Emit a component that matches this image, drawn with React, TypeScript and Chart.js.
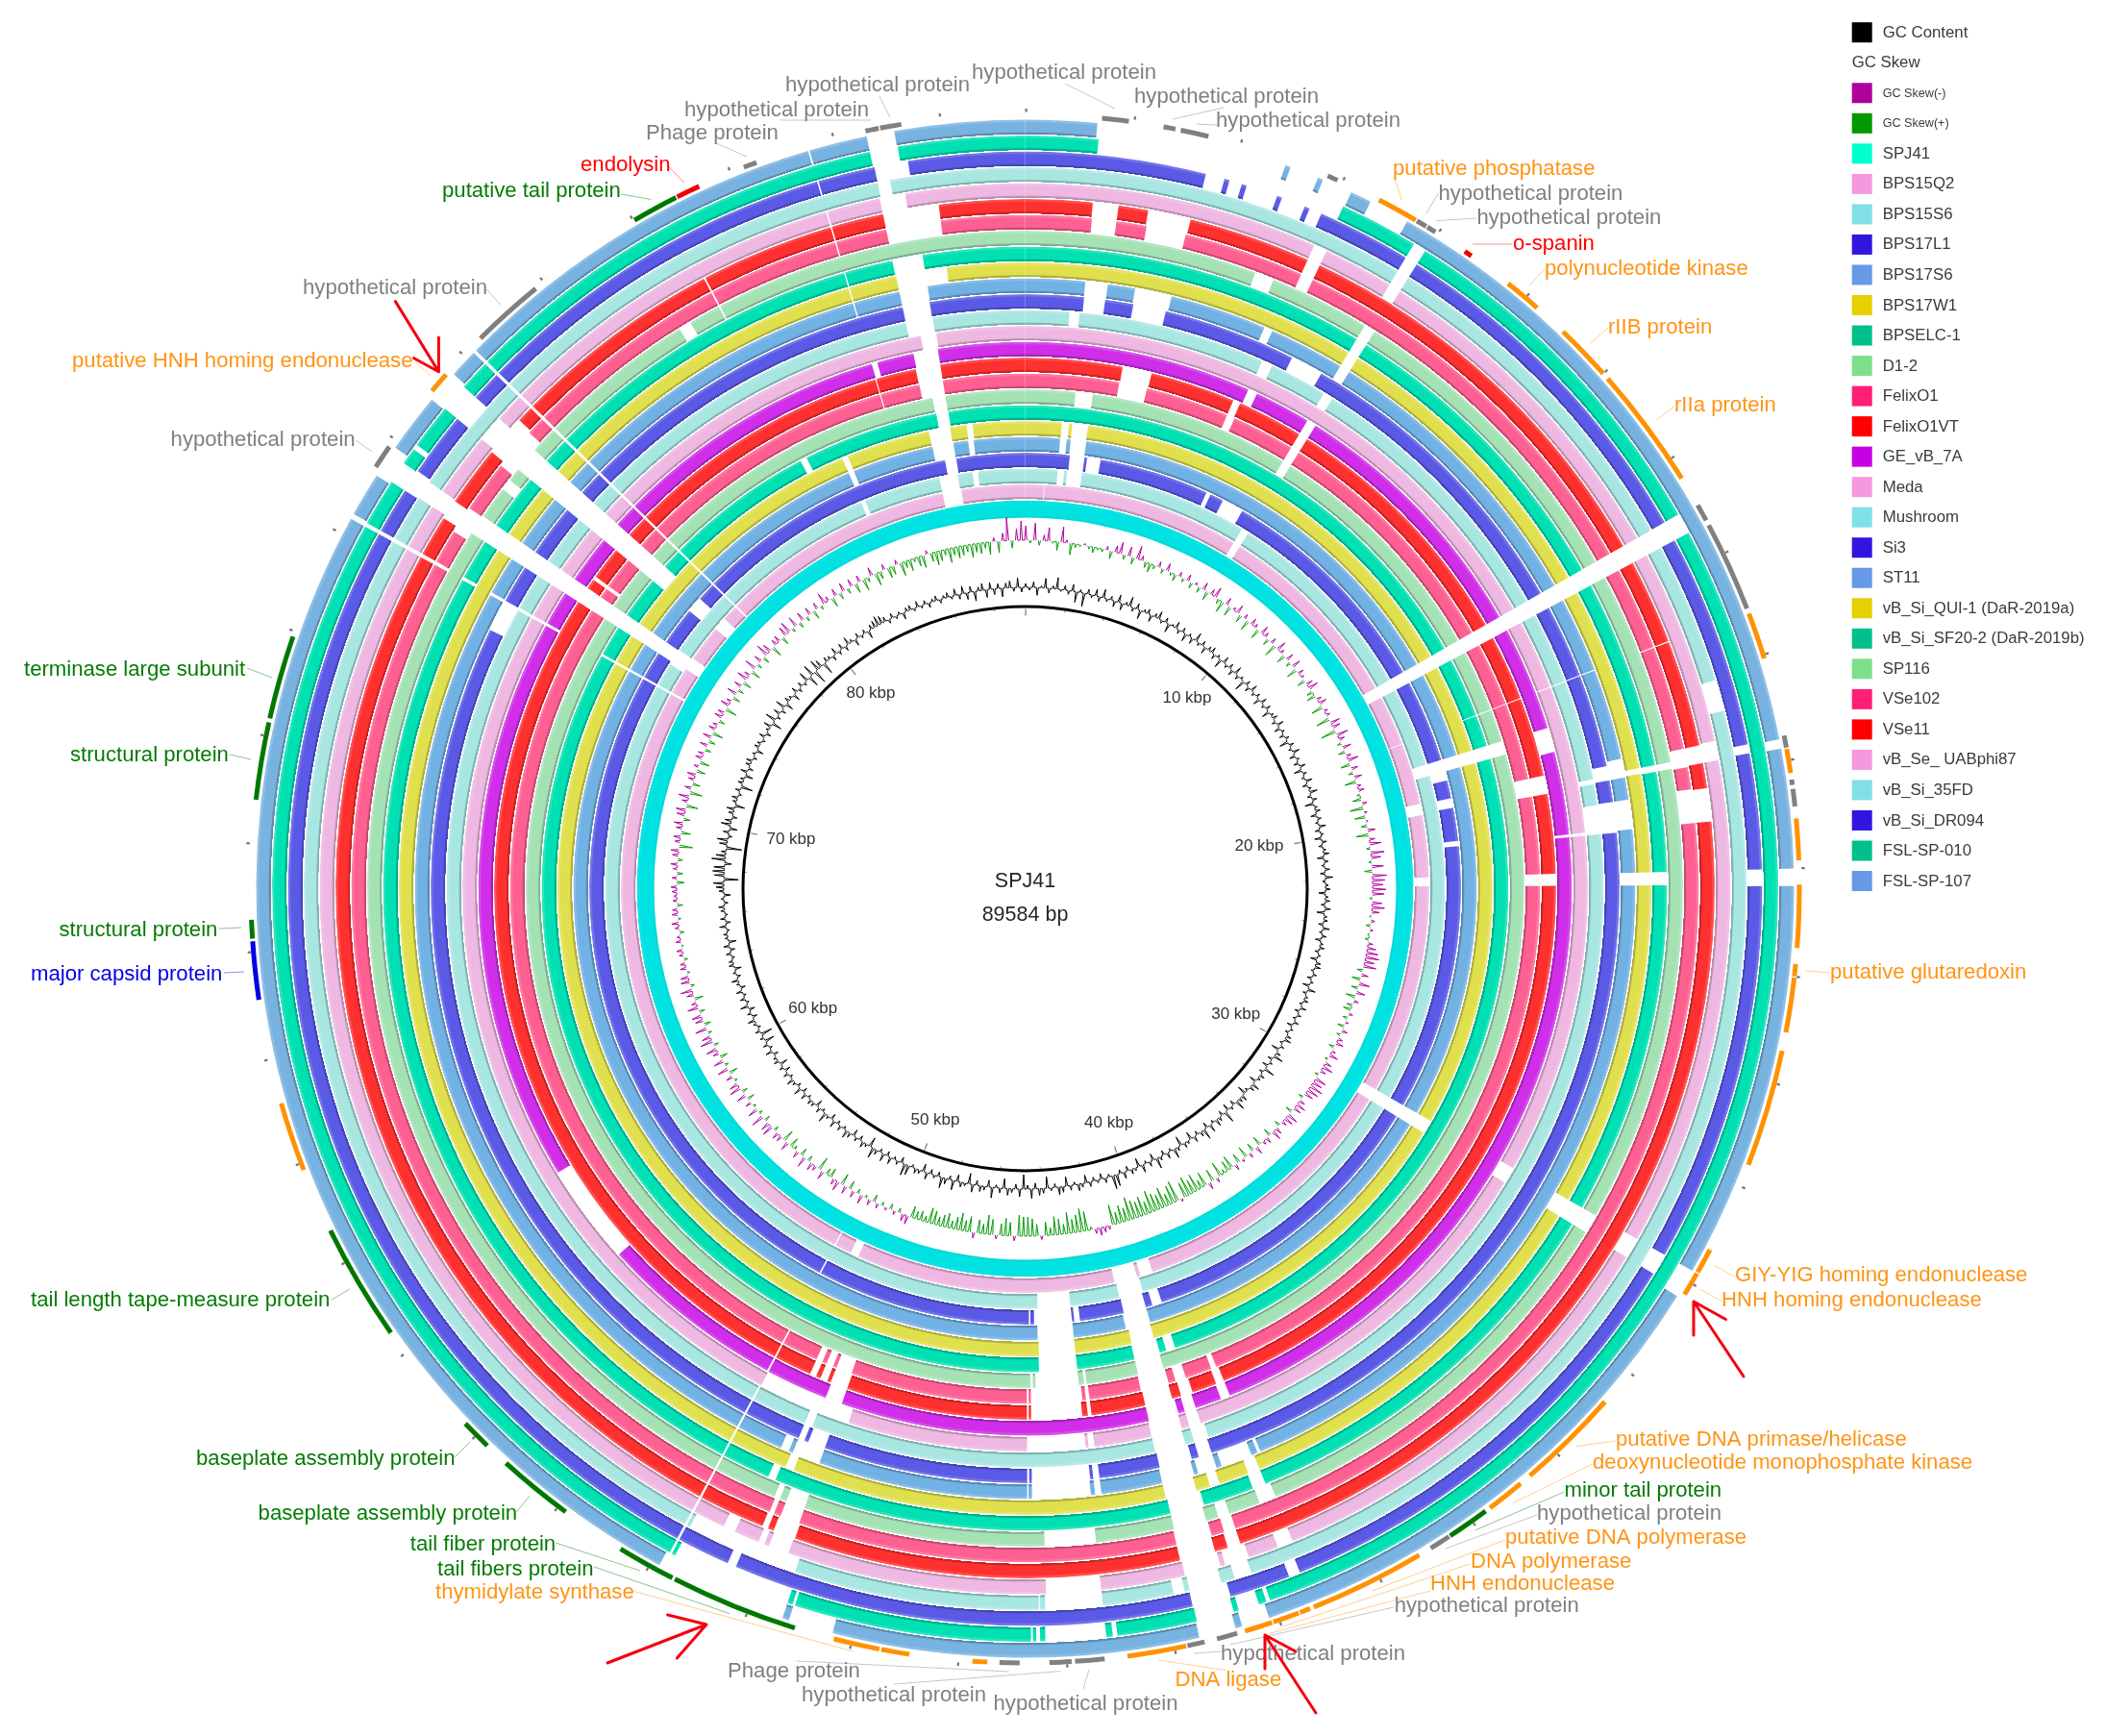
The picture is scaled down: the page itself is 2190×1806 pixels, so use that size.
import React, { useEffect, useRef } from "react";
import { Chart, registerables } from "chart.js";
Chart.register(...registerables);

// ---------- DATA ----------
const GENOME_KBP = 89.584;
const kbpTickLabels = ["10 kbp", "20 kbp", "30 kbp", "40 kbp", "50 kbp", "60 kbp", "70 kbp", "80 kbp"];
const minorTicksKbp = [0,2,4,6,8,10,12,14,16,18,20,22,24,26,28,30,32,34,36,38,40,42,44,46,48,50,52,54,56,58,60,62,64,66,68,70,72,74,76,78,80,82,84,86,88];
const majorTicksKbp = [0,10,20,30,40,50,60,70,80];

const ringNames = ["SPJ41","BPS15Q2","BPS15S6","BPS17L1","BPS17S6","BPS17W1","BPSELC-1","D1-2","FelixO1","FelixO1VT","GE_vB_7A","Meda","Mushroom","Si3","ST11","vB_Si_QUI-1 (DaR-2019a)","vB_Si_SF20-2 (DaR-2019b)","SP116","VSe102","VSe11","vB_Se_ UABphi87","vB_Si_35FD","vB_Si_DR094","FSL-SP-010","FSL-SP-107"];

// recurring unmatched wedges, degrees clockwise from the origin
const A61 = [60.2, 61.8];
const B69 = [68.95, 69.05];
const A120 = [119.8, 121.5];
const T208 = [207.98, 208.17];
const T299 = [298.75, 299.05];
const W303 = [302.7, 304.5];
const W310 = [309.6, 311.8];
const T314 = [314.18, 314.42];
const T344 = [343.6, 343.72];
const W24 = [24.2, 25.3];
const W31 = [31.1, 32.1];
const W73 = [72.8, 74.4];
const W89 = [88.5, 89.7];

const gapsSPJ41: number[][] = [];
const gapsBPS15Q2 = [[2.65,2.75],W31,A61,B69,[77.9,79.5],[88.4,89.65],A120,[161.6,163.4],[163.9,167.2],[204.4,205.6],T208,T299,[302.9,304.7],[310,311.9],T314,[348.2,350.9]];
const gapsBPS15S6 = [[4.45,5.35],[5.75,7.8],W31,A61,W73,A120,[163.7,167],[173.8,178.3],T299,[302.3,304.6],T314,[337,337.6],[348.2,350.75],[352.8,353.55]];
const gapsBPS17L1 = [[5.9,7.85],[8.2,10],[24.6,25.2],[27,29.9],A61,[72.8,75.6],[78,79.3],[83.7,84.4],A120,[161.7,163],[163.9,166.9],[172.75,173.5],[173.8,178.8],[179.3,179.5],T208,T299,W303,[309.6,311.7],T314,[349.4,350.9]];
const gapsBPS17S6 = [[4.45,5.3],[5.8,7.8],A61,W73,A120,[163.9,167.1],[173.8,178.4],T299,W303,T314,[337,337.7],[348.15,350.85],[352.75,353.45]];
const gapsBPS17W1 = [[4.5,5.4],[5.8,7.75],A61,W73,A120,[164,166.8],[173.8,178.3],T299,W303,T314,[337,337.7],[348.1,350.75],[352.8,353.55]];
const gapsBPSELC1 = [A61,B69,W73,[161.9,163],[163.8,166.9],[173.8,178.35],T299,W303,W310,T314,[332.3,333.1],[349.4,350.85]];
const gapsD12 = [[5.8,7.8],W31,A61,B69,W73,[163.9,166.9],[172.9,173.2],[173.8,178.8],[179.1,179.4],W303,W310,T314,[349.3,350.8]];
const gapsFelixO1 = [[10.55,13.7],[23.1,24],W31,A61,B69,[77.7,79.7],[88.4,89.7],[158.2,158.8],[161.8,163],[163.8,167],[172.8,173.2],[173.6,179.35],[179.6,179.8],[199.7,201.5],[201.9,202.7],[203.2,203.9],T208,W303,[305.6,306],W310,T314,T344,[348.15,350.8]];
const gapsFelixO1VT = [[10.6,13.8],[23.1,23.9],W31,A61,B69,[77.7,79.7],[88.4,89.7],[158,158.9],[161.6,162.9],[163.9,166.9],[172.8,173.2],[173.8,179.35],[179.6,179.8],[199.6,201.5],[201.9,202.7],[203.2,203.9],T208,W303,[305.6,306],W310,T314,T344,[348.1,350.8]];
const gapsGE7A = [[24.1,25.1],W31,A61,[72.9,75.5],[84.3,84.6],[158,159],[161.8,163],[163.7,166.9],[199.6,201.4],T208,[228,238.7],T299,W303,W310,T314,[343.7,344.3],[348.2,350.8]];
const gapsMeda = [A61,B69,[84.3,84.6],A120,[161.8,163],[163.8,167],[172.9,173.5],[173.8,179.8],[198.3,208],T299,W303,W310,T314,[349.3,350.9]];
const gapsMushroom = [[4.4,5.4],W24,W31,A61,B69,[79.1,79.6],[81.7,84.6],[161.5,163],[163.9,167],[201.6,202.4],T208,T299,W303,W310,T314,[348.1,350.8]];
const gapsSi3 = [[5.7,7.75],[10.5,13.7],[26.7,29.9],A61,B69,[78.1,79.5],[81.6,84.6],[161.7,163],[163.7,166.9],[172.8,173.4],[173.7,179.35],[179.6,179.8],[199.7,201.4],[201.8,202.4],T208,[295.8,299],W303,W310,T314,[348.1,350.75]];
const gapsST11 = [[5.67,7.8],[10.4,13.9],[23.1,23.9],W31,A61,B69,[77.7,79.5],[81.6,84.4],W89,[157.3,157.6],[158.2,161.2],[161.7,163.5],[163.9,167],[172.8,173.4],[173.8,179.35],[179.67,179.8],[199.7,202.4],[202.8,203.6],T208,T299,W303,W310,T314,T344,[348.1,350.8]];
const gapsQUI1 = [W31,A61,[78.9,79.4],W89,A120,[158,159.1],[161.9,162.8],[164.1,167],[201.7,202.5],T208,W303,W310,T314,T344,[348.1,352.8]];
const gapsSF202 = [W31,A61,[78.9,79.5],W89,A120,[158,159.2],[163.8,166.9],[202.9,203.6],T208,T299,W303,W310,T314,T344,[348.05,350.8]];
const gapsSP116 = [[20.5,22.2],W31,A61,[78.9,79.5],A120,[157.6,159.1],[161.9,162.9],[164,166.9],[173.8,178.3],[199.6,201.3],[201.9,202.4],T208,W303,[307.4,308.4],W310,T314,[328.3,329.4],[332.23,332.37]];
const gapsVSe102 = [[5.7,7.8],[10.4,13.8],W24,A61,B69,[78,79.6],[81.5,84.4],[161.8,162.8],[163.9,167],[199.6,201.3],[201.9,202.3],T208,T299,[302,304.4],[308.9,312.6],T314,[332.23,332.37],T344,[348.1,352.8]];
const gapsVSe11 = [[5.64,7.8],[10.3,13.9],W24,A61,B69,[78,79.5],[81.6,84.4],[161.8,162.9],[164,167],[199.5,201.4],[201.9,202.4],T208,T299,[302.5,304.2],[309.3,312.8],T314,[332.23,332.37],T344,[348.1,352.8]];
const gapsUABphi87 = [W24,W31,A61,[77.9,79.5],A120,[157.7,159],[161.5,163.5],[163.9,166.9],[173.8,178.3],[199.6,201.3],[201.7,202.2],[204.3,205.3],T208,T299,[302.8,304.3],W310,T314,T344,[348.1,350.2]];
const gaps35FD = [W31,A61,[73.2,75.7],[161.7,163.1],[164.2,166.8],[167.2,168.1],[173.8,178.4],[178.8,178.9],[198.6,207.7],T208,T299,[302.8,304.3],T314,[348.2,349.2]];
const gapsDR094 = [[14.2,15.7],[16.1,17.1],[17.5,20],[20.4,22.3],[22.7,23.7],W31,A61,[78.7,79.4],[88.5,89.8],A120,[158.1,159],[163.8,166.85],[203.1,203.8],T208,T299,W303,W310,T314,T344,[348.2,350.85]];
const gapsFSL010 = [[5.6,25],W31,A61,[161,161.3],[161.9,163.5],[163.9,166.8],[172.95,173.3],[173.8,178.45],[178.85,179.15],[179.4,179.55],[197.8,198],[198.4,207.7],T208,T299,[302.7,304.4],[305.7,306.1],W310,T314,[348.1,350.25]];
const gapsFSL107 = [[5.4,19.8],[20.2,22.4],[22.8,25.1],[26.7,29.8],[78.8,79.5],[88.5,89.8],[119.8,122],[161.5,163.6],[164.1,166.9],[194.5,197.9],[198.4,208.4],[298.75,299.15],[302.5,305],[309.5,312],T314,T344,[348.1,350.2]];
const ringGaps = [gapsSPJ41,gapsBPS15Q2,gapsBPS15S6,gapsBPS17L1,gapsBPS17S6,gapsBPS17W1,gapsBPSELC1,gapsD12,gapsFelixO1,gapsFelixO1VT,gapsGE7A,gapsMeda,gapsMushroom,gapsSi3,gapsST11,gapsQUI1,gapsSF202,gapsSP116,gapsVSe102,gapsVSe11,gapsUABphi87,gaps35FD,gapsDR094,gapsFSL010,gapsFSL107];

// annotated CDS arcs: start deg, end deg, category
const geneArcs: [number, number, string][] = [
  [5.7,7.7,"h"],[10.3,11.2,"h"],[11.6,13.7,"h"],[23,23.8,"h"],[27.2,30.3,"o"],[30.4,31.2,"h"],[31.3,32,"h"],[34.6,35.2,"r"],[38.6,41.4,"o"],[44,48.3,"o"],[48.8,58,"o"],[60.3,61.6,"h"],[62,68.8,"h"],[69.2,72.7,"o"],[78.6,79.5,"h"],[79.6,81.4,"o"],[81.9,82.3,"h"],[82.6,83.9,"h"],[84.8,87.9,"o"],[89.7,94.4,"o"],[95.6,96.5,"o"],[96.6,100.7,"o"],[102.1,110.9,"o"],[117.8,119.7,"o"],[119.8,121.6,"o"],[131.5,139.3,"o"],[140.2,143.1,"o"],[143.5,146.7,"g"],[146.8,148.4,"h"],[149.4,158.1,"o"],[158.4,159.2,"o"],[159.3,161.3,"o"],[161.4,163.5,"o"],[164.1,165.65,"h"],[166.6,167.9,"h"],[168,172.4,"o"],[174.1,176.3,"h"],[176.55,178.2,"h"],[180.4,181.9,"h"],[182.8,183.9,"o"],[188.6,190.7,"o"],[190.85,194.3,"o"],[197.3,206.9,"g"],[207.1,211.5,"g"],[216.4,222.1,"g"],[224,226.3,"g"],[235,243.8,"g"],[248.7,253.9,"o"],[261.75,266.1,"b"],[266.3,267.7,"g"],[276.6,282.4,"g"],[282.7,289,"g"],[303,304.8,"h"],[310,311.6,"o"],[315.3,320.8,"h"],[329.7,333.2,"g"],[333.3,335.1,"r"],[338.7,339.7,"h"],[348.1,349.1,"h"],[349.2,350.8,"h"]
];

const geneLabels: [string, string][] = [
  ["hypothetical protein","h"],["hypothetical protein","h"],["hypothetical protein","h"],["hypothetical protein","h"],["hypothetical protein","h"],["Phage protein","h"],["endolysin","r"],["putative tail protein","g"],["hypothetical protein","h"],["putative HNH homing endonuclease","o"],["hypothetical protein","h"],["terminase large subunit","g"],["structural protein","g"],["structural protein","g"],["major capsid protein","b"],["tail length tape-measure protein","g"],["baseplate assembly protein","g"],["baseplate assembly protein","g"],["tail fiber protein","g"],["tail fibers protein","g"],["thymidylate synthase","o"],["Phage protein","h"],["hypothetical protein","h"],["hypothetical protein","h"],["DNA ligase","o"],["hypothetical protein","h"],["hypothetical protein","h"],["HNH endonuclease","o"],["DNA polymerase","o"],["putative DNA polymerase","o"],["hypothetical protein","h"],["minor tail protein","g"],["deoxynucleotide monophosphate kinase","o"],["putative DNA primase/helicase","o"],["HNH homing endonuclease","o"],["GIY-YIG homing endonuclease","o"],["putative glutaredoxin","o"],["rIIa protein","o"],["rIIB protein","o"],["polynucleotide kinase","o"],["o-spanin","r"],["hypothetical protein","h"],["hypothetical protein","h"],["putative phosphatase","o"]
];

const legendEntries: [string, string | null][] = [
  ["GC Content","#000000"],["GC Skew",null],["GC Skew(-)","#b0009c"],["GC Skew(+)","#009900"],["SPJ41","#00ffcc"],["BPS15Q2","#f598de"],["BPS15S6","#7fe0e8"],["BPS17L1","#3315e0"],["BPS17S6","#6699e6"],["BPS17W1","#e6d000"],["BPSELC-1","#00c08c"],["D1-2","#7fe08c"],["FelixO1","#ff2075"],["FelixO1VT","#ff0000"],["GE_vB_7A","#c800e6"],["Meda","#f598de"],["Mushroom","#7fe0e8"],["Si3","#3315e0"],["ST11","#6699e6"],["vB_Si_QUI-1 (DaR-2019a)","#e6d000"],["vB_Si_SF20-2 (DaR-2019b)","#00c08c"],["SP116","#7fe08c"],["VSe102","#ff2075"],["VSe11","#ff0000"],["vB_Se_ UABphi87","#f598de"],["vB_Si_35FD","#7fe0e8"],["vB_Si_DR094","#3315e0"],["FSL-SP-010","#00c08c"],["FSL-SP-107","#6699e6"]
];

// one reading every 0.75 degree, twelve lines of 30 degrees each
const gcContentDeviation = [
  4,-3,6,-8,2,10,-5,3,12,-2,5,-4,7,-11,3,-14,5,-3,7,-5,9,-3,4,-6,8,-7,3,10,-4,6,-9,3,5,-7,4,8,-3,5,-9,2,
  7,-4,5,-8,3,-6,9,-3,5,-7,4,6,-5,3,-9,7,-3,5,-6,8,-4,3,-11,5,-5,7,-3,4,-7,6,-3,5,-8,3,5,-4,7,-6,3,-5,
  4,-9,5,-3,7,-6,3,-5,6,-8,4,-3,7,-5,3,8,-4,5,-9,3,5,-6,4,-3,7,-5,3,-7,5,-4,3,6,-7,4,-3,5,-5,8,-3,3,
  5,-7,3,5,-4,6,-8,3,4,-5,7,-3,5,-6,3,5,-4,3,-7,5,6,-3,4,-5,3,-7,8,-4,3,5,-3,6,-5,4,-3,5,-6,3,-4,5,
  7,-3,4,-8,5,10,-5,3,-6,11,-4,5,3,-7,8,5,-3,-9,6,4,10,-5,3,-7,12,-5,4,7,-3,8,-6,11,5,-4,6,-8,3,5,-10,4,
  10,-3,6,-5,4,11,-7,5,-3,8,-9,3,5,-5,7,-4,12,14,-3,5,-6,3,-4,5,-8,4,7,-3,5,-10,6,8,-4,3,-12,5,7,-6,10,-4,
  -15,8,-5,4,7,-10,5,-3,11,-7,4,6,-5,8,-11,3,5,-7,10,-4,6,11,-5,3,-5,7,-8,4,5,-3,10,12,-6,4,-3,7,-5,8,-4,5,
  11,-10,3,6,-5,4,-7,5,8,-3,5,-4,7,-6,3,10,-3,5,-7,4,5,-3,6,-5,8,-4,3,7,-3,5,-6,4,-8,5,3,-5,7,-3,5,-10,
  4,-12,5,-3,3,7,-5,4,-6,8,-3,5,-3,6,-5,3,7,-4,3,-7,5,4,-3,5,-5,6,-8,3,4,-3,7,-5,5,-3,4,6,-4,3,-7,5,
  8,11,-15,10,12,11,-7,14,10,5,-16,8,11,-4,6,-8,10,7,-5,5,8,-10,4,6,-3,5,-12,5,4,-8,7,-5,5,6,-4,3,-7,5,4,-3,
  6,-5,3,8,-10,11,-4,7,-5,10,-8,5,3,-7,6,-4,5,-3,10,-11,12,-14,11,8,-12,5,3,-5,7,-4,6,-5,8,3,-7,5,-3,4,-8,5,
  7,10,8,5,-4,5,-3,3,-7,4,5,-3,6,-3,4,-5,3,5,-4,3,5,-3,7,-5,8,-7,6,-10,4,7,-8,7,-6,5,-9,5,7,-4,10,-5
];
const gcSkewDeviation = [
  15,-3,18,-5,6,14,-2,-9,16,3,-12,-4,-2,2,-3,-6,-2,-3,4,-8,7,12,-5,10,-7,14,5,-6,-9,-4,6,-5,8,-3,-7,5,-4,7,-6,3,
  -6,8,-9,6,11,-5,-12,8,-10,3,9,-8,5,-11,7,4,-10,9,5,-7,6,-13,10,4,-9,8,-5,9,-11,6,3,-8,7,10,-6,-9,5,8,-12,4,
  4,-14,10,8,-16,12,6,-4,9,-7,5,11,-10,7,-5,8,-12,4,6,-3,-9,5,-14,3,-11,2,-6,8,-13,6,12,-4,14,10,-3,12,-8,15,13,11,
  14,12,-3,10,13,8,-2,4,-5,3,-2,-4,5,9,12,14,10,13,-6,7,-9,11,-7,9,-10,5,-6,-8,4,-5,3,-7,6,-4,5,8,-6,4,9,-3,
  7,11,6,-4,12,10,14,12,9,-5,6,10,8,-7,11,9,5,-6,7,10,-8,6,4,-10,8,-9,5,-12,3,-10,6,-14,-11,-4,-16,5,-13,7,-15,-9,
  -18,-14,-20,-16,3,-22,-19,-12,-21,-15,-18,-23,-13,-20,-16,-19,-24,-14,-18,-12,-21,4,6,8,5,-3,-20,-24,-18,-14,-22,-10,-16,-19,-8,-14,4,-12,-18,-20,
  -20,-22,5,-14,-18,-12,4,-16,-20,-10,-14,6,-16,-11,-18,-13,-8,-15,-12,-9,-14,-16,-6,-10,-8,-12,9,7,-5,4,-6,3,-4,5,-8,6,-3,9,-5,7,
  -9,8,-12,10,6,-10,-7,9,-14,5,8,-6,11,-8,7,-4,-10,9,-12,6,7,-5,11,9,-6,13,-4,10,-3,6,-8,10,-6,12,9,-3,7,-9,11,-4,
  10,-8,6,11,-5,13,9,-4,12,-7,8,10,-6,11,5,-9,7,12,-4,9,8,-3,6,5,-4,4,6,-2,5,3,-5,4,7,-3,6,5,-6,4,3,5,
  6,-8,5,-6,4,7,-5,6,8,-14,5,7,-10,6,9,-7,8,10,-12,6,11,-13,7,-8,6,9,-9,5,-10,7,6,-6,8,-7,9,-11,7,5,-6,8,
  7,-12,9,5,-8,10,-6,8,-9,11,6,-10,12,-5,8,-7,13,9,-11,6,7,-8,10,12,-4,11,-6,9,-5,8,-9,7,-4,12,5,-10,8,-7,9,-6,
  8,-10,7,-12,-5,9,-13,-8,6,-11,-9,5,-14,-7,-12,-4,-10,-13,4,-9,-14,-11,-6,-15,-8,-12,-10,-7,-14,-9,-11,-6,-13,4,-12,8,24,-8,12,20
];

// ---------- LAYOUT AND STYLE ----------
const W = 2190, H = 1806, CX = 1066.5, CY = 924.5;
const GC_BASE = 313, SKEW_BASE = 362;
const RING_W = 16.5, CORE_W = 18, CORE_IN = 386;
const TEXT_DY = 1.4;
const FONT = '"Liberation Sans", Arial, sans-serif';
const catColor: Record<string, string> = { h: "#808080", o: "#ff9414", g: "#047c04", r: "#ff0000", b: "#0000e6" };
const geneArcColor: Record<string, string> = { h: "#808080", o: "#ff9200", g: "#007800", r: "#f00000", b: "#0000e0" };
const ringBase = ["#00e2e2","#eeb8e2","#a8e6e2","#5a5ae6","#72b1e4","#e0e04e","#00e0b2","#a4e2b5","#ff6092","#ff3030","#d02ee8","#eeb8e2","#a8e6e2","#5a5ae6","#72b1e4","#e0e04e","#00e0b2","#a4e2b5","#ff6092","#ff3030","#eeb8e2","#a8e6e2","#5a5ae6","#00e0b2","#78b2e0"];

const kbpLabelPos = [[1235,725],[1310,879],[1285.7,1054],[1153.6,1167],[973,1164],[845.7,1048],[823,872],[906,719.7]];
// left x, middle y, leader from, leader to
const geneLabelLayout = [
  [1011,74,1108,87,1160,113],[817,87,915,100,926,122],[1180,99,1220,124,1273,112],[712,113,812,125,906,125],[1265,124,1245,129,1266,130],[672,137,745,149,777,163],[604,170.7,696,174,712,190],[460,197,646,202,677.5,207.5],[315,298,506,301,521,317],[75,374,432,376,448,391],[177.6,456,370,458,387.5,470],[25,695,257,695,283,705],[73,784,239,785,261,790],[61.5,966.5,228,966,251,965],[32,1012.6,233,1012,254,1011],[32,1351,345,1352,364,1341],[204,1516,473,1516,489,1500],[268.6,1573,537.5,1573,551,1556],[426.8,1605,578,1605,666,1634],[455,1631,618,1630,759,1678.6],[453,1655,658,1655,887.5,1718],[757,1737.5,829,1728,1050,1739],[834,1762.6,930,1752,1103.6,1738.6],[1033.5,1771,1127,1757,1133,1737],[1222.5,1746,1205,1727,1275,1737.5],[1270,1719.6,1242,1720,1271,1718],[1450.7,1669.6,1450,1672,1280,1711],[1488,1646,1488,1655,1318,1700],[1530,1623,1529,1627,1332,1693],[1566,1598,1566,1602,1427.5,1655],[1599,1573,1599,1576,1504,1611],[1627.5,1549,1627.5,1552,1534.6,1592],[1657,1520.7,1657,1523,1574,1563.6],[1681,1496,1681,1499,1640,1504.6],[1791,1351,1791,1353.6,1768.6,1341],[1805,1325.7,1805,1328.6,1783,1316],[1904,1010,1904,1012,1879,1010],[1742,420.7,1742,422.5,1723,437],[1673,339,1673,341,1655,357],[1607,278,1607,279.6,1590.7,297.5],[1574,252,1573,254,1532,254],[1536.4,225,1536,227,1494,229.6],[1496.4,200,1496.4,201,1483.6,222.5],[1449,174,1450.7,185,1458.6,209]
];
const redArrows = [
  [411.4,313.6,456.4,386.8,456.4,351,430.4,372.5],
  [632,1730,735,1690,694.6,1680,704.3,1725],
  [1369,1782,1316,1701,1316,1736,1348,1718],
  [1814,1432,1762,1354,1762,1389,1795.4,1372.5],
];

function shade(hex: string, f: number) {
  const n = parseInt(hex.slice(1), 16);
  const ch = [(n >> 16) & 255, (n >> 8) & 255, n & 255].map((c) => (f < 1 ? c * f : c + (255 - c) * (f - 1)));
  return `rgb(${ch.map(Math.round).join(",")})`;
}

function ringArcs(gaps: number[][]) {
  const sorted = gaps.map((g) => [g[0], g[1]]).sort((a, b) => a[0] - b[0]);
  const merged: number[][] = [];
  for (const g of sorted) {
    const last = merged[merged.length - 1];
    if (last && g[0] <= last[1]) last[1] = Math.max(last[1], g[1]);
    else merged.push(g);
  }
  const data: number[] = [];
  let pos = 0;
  for (const [a, b] of merged) {
    data.push(Math.max(0, a - pos), b - a);
    pos = b;
  }
  data.push(360 - pos);
  return data;
}

function markArcs(marks: [number, number, string][]) {
  const data: number[] = [];
  const colors: string[] = [];
  let pos = 0;
  for (const [a, b, c] of marks) {
    data.push(Math.max(0, a - pos), b - a);
    colors.push("rgba(0,0,0,0)", c);
    pos = b;
  }
  data.push(360 - pos);
  colors.push("rgba(0,0,0,0)");
  return { data, colors };
}

function tickMarks(kbp: number[], width: number, color: string): [number, number, string][] {
  return kbp.map((k) => {
    const a = (k / GENOME_KBP) * 360;
    return [a, a + width, color];
  });
}

const annotationPlugin = {
  id: "annotations",
  afterDraw(chart: any) {
    const c = chart.ctx as CanvasRenderingContext2D;
    c.save();
    c.textBaseline = "middle";
    c.textAlign = "left";
    // leaders and gene names
    geneLabels.forEach(([text, cat], i) => {
      const [x, y, x1, y1, x2, y2] = geneLabelLayout[i];
      c.globalAlpha = 0.45;
      c.strokeStyle = catColor[cat];
      c.lineWidth = 1;
      c.beginPath();
      c.moveTo(x1, y1);
      c.lineTo(x2, y2);
      c.stroke();
      c.globalAlpha = 1;
      c.fillStyle = catColor[cat];
      c.font = `22.15px ${FONT}`;
      c.fillText(text, x, y + TEXT_DY);
    });
    // red arrows
    c.strokeStyle = "#f5000f";
    c.lineWidth = 3;
    c.lineCap = "round";
    c.lineJoin = "round";
    redArrows.forEach(([a, b, tx, ty, h1x, h1y, h2x, h2y]) => {
      c.beginPath();
      c.moveTo(a, b);
      c.lineTo(tx, ty);
      c.moveTo(h1x, h1y);
      c.lineTo(tx, ty);
      c.lineTo(h2x, h2y);
      c.stroke();
    });
    // centre text
    c.textAlign = "center";
    c.fillStyle = "#262626";
    c.font = `21.5px ${FONT}`;
    c.fillText("SPJ41", CX, 916 + TEXT_DY);
    c.fillText("89584 bp", CX, 951 + TEXT_DY);
    c.fillStyle = "#333333";
    c.font = `17px ${FONT}`;
    kbpTickLabels.forEach((t, i) => c.fillText(t, kbpLabelPos[i][0], kbpLabelPos[i][1] + TEXT_DY));
    // legend
    c.textAlign = "left";
    legendEntries.forEach(([name, col], i) => {
      const y = 32.7 + 31.53 * i;
      c.fillStyle = "#3a3a3a";
      if (col === null) {
        c.font = `16.8px ${FONT}`;
        c.fillText(name, 1926.7, y + TEXT_DY);
        return;
      }
      c.font = i === 2 || i === 3 ? `12.6px ${FONT}` : `16.8px ${FONT}`;
      c.fillText(name, 1958.7, y + TEXT_DY);
      c.fillStyle = col;
      c.fillRect(1926.7, y - 9.5, 21, 21);
    });
    c.restore();
  },
};

export default function App() {
  const ringRef = useRef<HTMLCanvasElement>(null);
  const trackRef = useRef<HTMLCanvasElement>(null);

  useEffect(() => {
    const ringCanvas = ringRef.current!;
    const ctx = ringCanvas.getContext("2d")!;

    const clear = "rgba(0,0,0,0)";
    const ringDatasets = ringGaps.map((gaps, i) => {
      const inner = i === 0 ? CORE_IN : CORE_IN + CORE_W + (i - 1) * RING_W;
      const outer = inner + (i === 0 ? CORE_W : RING_W);
      const g = ctx.createRadialGradient(CX, CY, inner, CX, CY, outer);
      const base = ringBase[i];
      const dark = shade(base, i === 0 ? 0.94 : 0.78);
      const light = shade(base, i === 0 ? 1.05 : 1.16);
      if (i === 0) {
        g.addColorStop(0, dark);
        g.addColorStop(0.15, base);
      } else {
        g.addColorStop(0, "#ffffff");
        g.addColorStop(0.07, "#ffffff");
        g.addColorStop(0.075, dark);
        g.addColorStop(0.17, dark);
        g.addColorStop(0.23, base);
      }
      g.addColorStop(0.8, base);
      g.addColorStop(0.88, light);
      g.addColorStop(1, light);
      const data = ringArcs(gaps);
      return {
        label: ringNames[i],
        data,
        weight: i === 0 ? CORE_W : RING_W,
        backgroundColor: data.map((_, k) => (k % 2 === 0 ? g : clear)),
        borderWidth: 0,
      };
    }).reverse();

    const outerTicks = markArcs(tickMarks(minorTicksKbp, 0.16, "#777777"));
    const genes = markArcs(geneArcs.map(([a, b, cat]) => [a, b, geneArcColor[cat]] as [number, number, string]));
    const minor = markArcs(tickMarks(minorTicksKbp, 0.2, "#999999"));
    const major = markArcs(tickMarks(majorTicksKbp, 0.24, "#777777"));
    const spacer = (weight: number) => ({ data: [360], weight, backgroundColor: [clear], borderWidth: 0 });

    const ringChart = new Chart(ringCanvas, {
      type: "doughnut",
      data: {
        datasets: [
          { data: outerTicks.data, weight: 3.5, backgroundColor: outerTicks.colors, borderWidth: 0 },
          { label: "genes", data: genes.data, weight: 5, backgroundColor: genes.colors, borderWidth: 0 },
          spacer(3),
          ...ringDatasets,
          spacer(91),
          { data: [360], weight: 3, backgroundColor: ["#000000"], borderWidth: 0 },
          { data: minor.data, weight: 2, backgroundColor: minor.colors, borderWidth: 0 },
          { data: major.data, weight: 6, backgroundColor: major.colors, borderWidth: 0 },
        ] as any,
      },
      options: {
        responsive: false,
        animation: false,
        devicePixelRatio: 1,
        events: [],
        cutout: 284,
        layout: { padding: { left: 255, right: 312, top: 113, bottom: 70 } },
        plugins: { legend: { display: false }, tooltip: { enabled: false } },
      } as any,
      plugins: [annotationPlugin],
    });

    // radial tracks: spike out from the baseline and back for each reading
    const n = gcContentDeviation.length;
    const labels: string[] = [];
    const gc: (number | null)[] = [];
    const skewNeg: (number | null)[] = [];
    const skewPos: (number | null)[] = [];
    for (let i = 0; i < n; i++) {
      labels.push("", "", "", "");
      const d = gcContentDeviation[i];
      gc.push(GC_BASE, GC_BASE + d, GC_BASE, GC_BASE);
      const s = gcSkewDeviation[i];
      const next = gcSkewDeviation[(i + 1) % n];
      const link = Math.sign(next) === Math.sign(s) ? SKEW_BASE : null;
      const spike = [SKEW_BASE, SKEW_BASE + s, SKEW_BASE, link];
      const none = [null, null, null, null];
      skewPos.push(...(s > 0 ? spike : none));
      skewNeg.push(...(s < 0 ? spike : none));
    }
    const lineStyle = { pointRadius: 0, borderWidth: 1, fill: false, tension: 0, spanGaps: false };
    const trackChart = new Chart(trackRef.current!, {
      type: "radar",
      data: {
        labels,
        datasets: [
          { label: "GC Content", data: gc, borderColor: "#000000", ...lineStyle },
          { label: "GC Skew(-)", data: skewPos, borderColor: "#b0009c", ...lineStyle },
          { label: "GC Skew(+)", data: skewNeg, borderColor: "#0a9a0a", ...lineStyle },
        ] as any,
      },
      options: {
        responsive: false,
        animation: false,
        devicePixelRatio: 1,
        events: [],
        layout: { padding: { left: 666.5, right: 723.5, top: 524.5, bottom: 481.5 } },
        scales: {
          r: {
            min: 0,
            max: 400,
            grid: { display: false },
            angleLines: { display: false },
            pointLabels: { display: false },
            ticks: { display: false },
            border: { display: false },
          },
        },
        plugins: { legend: { display: false }, tooltip: { enabled: false } },
      } as any,
    });

    return () => {
      ringChart.destroy();
      trackChart.destroy();
    };
  }, []);

  const layer: React.CSSProperties = { position: "absolute", left: 0, top: 0, width: W, height: H };
  return (
    <div style={{ position: "absolute", left: 0, top: 0, width: W, height: H, background: "#fff", overflow: "hidden" }}>
      <canvas ref={ringRef} width={W} height={H} style={layer} />
      <canvas ref={trackRef} width={W} height={H} style={layer} />
    </div>
  );
}
